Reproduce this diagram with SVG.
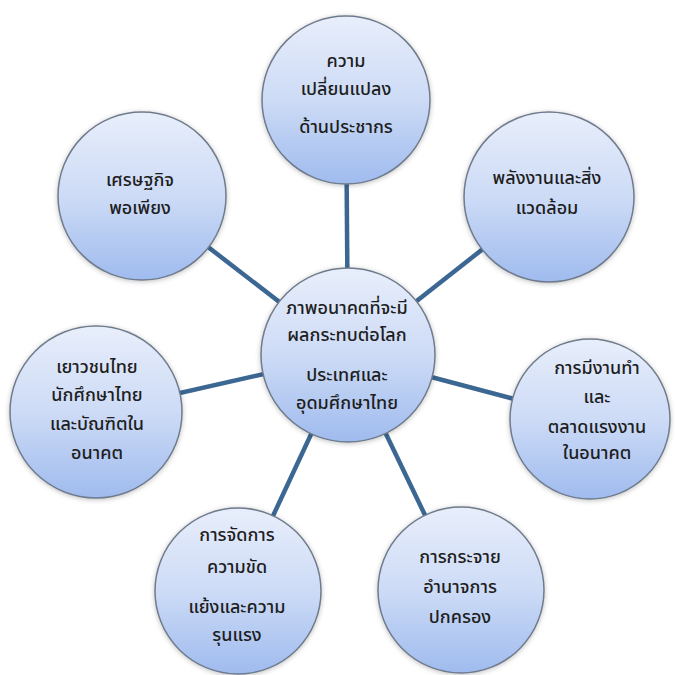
<svg xmlns="http://www.w3.org/2000/svg" width="675" height="675" viewBox="0 0 675 675">
<defs>
<linearGradient id="g" x1="0" y1="0" x2="0" y2="1">
<stop offset="0" stop-color="#e8eefb"/>
<stop offset="0.5" stop-color="#cddbf6"/>
<stop offset="1" stop-color="#9fbbee"/>
</linearGradient>
<filter id="sh" x="-20%" y="-20%" width="140%" height="140%">
<feDropShadow dx="0" dy="1" stdDeviation="2.5" flood-color="#000" flood-opacity="0.25"/>
</filter>
</defs>
<style>
.n circle{fill:url(#g);stroke:#6f7b8c;stroke-width:1.5;filter:url(#sh)}
.n text{font-family:"Noto Sans Thai","Tahoma","Noto Sans","DejaVu Sans",sans-serif;font-size:18px;font-weight:500;fill:#1e1e1e;text-anchor:middle}
.c line{stroke:#3c6792;stroke-width:4.5}
</style>
<rect width="675" height="675" fill="#fff"/>
<g id="connectors" class="c">
<line x1="348" y1="355" x2="346" y2="100"/>
<line x1="348" y1="355" x2="549" y2="197"/>
<line x1="348" y1="355" x2="590" y2="419"/>
<line x1="348" y1="355" x2="461" y2="590"/>
<line x1="348" y1="355" x2="238" y2="591"/>
<line x1="348" y1="355" x2="96" y2="412"/>
<line x1="348" y1="355" x2="142" y2="196"/>
</g>
<g id="n-top" class="n">
<circle cx="346" cy="100" r="84"/>
<text x="346" y="67">ความ</text>
<text x="346" y="95">เปลี่ยนแปลง</text>
<text x="346" y="133">ด้านประชากร</text>
</g>
<g id="n-topright" class="n">
<circle cx="549" cy="197" r="85"/>
<text x="547" y="184">พลังงานและสิ่ง</text>
<text x="547" y="214">แวดล้อม</text>
</g>
<g id="n-right" class="n">
<circle cx="590" cy="419" r="80"/>
<text x="597" y="374">การมีงานทำ</text>
<text x="597" y="403">และ</text>
<text x="597" y="433">ตลาดแรงงาน</text>
<text x="597" y="459">ในอนาคต</text>
</g>
<g id="n-bottomright" class="n">
<circle cx="461" cy="590" r="83"/>
<text x="460" y="563">การกระจาย</text>
<text x="460" y="593">อำนาจการ</text>
<text x="460" y="623">ปกครอง</text>
</g>
<g id="n-bottomleft" class="n">
<circle cx="238" cy="591" r="83"/>
<text x="237" y="541">การจัดการ</text>
<text x="237" y="573">ความขัด</text>
<text x="237" y="613">แย้งและความ</text>
<text x="237" y="641">รุนแรง</text>
</g>
<g id="n-left" class="n">
<circle cx="96" cy="412" r="86"/>
<text x="97" y="373">เยาวชนไทย</text>
<text x="97" y="401">นักศึกษาไทย</text>
<text x="97" y="430">และบัณฑิตใน</text>
<text x="97" y="459">อนาคต</text>
</g>
<g id="n-topleft" class="n">
<circle cx="142" cy="196" r="84"/>
<text x="140" y="186">เศรษฐกิจ</text>
<text x="140" y="214">พอเพียง</text>
</g>
<g id="n-center" class="n">
<circle cx="348" cy="355" r="87"/>
<text x="347" y="314">ภาพอนาคตที่จะมี</text>
<text x="347" y="341">ผลกระทบต่อโลก</text>
<text x="347" y="381">ประเทศและ</text>
<text x="347" y="409">อุดมศึกษาไทย</text>
</g>
</svg>
